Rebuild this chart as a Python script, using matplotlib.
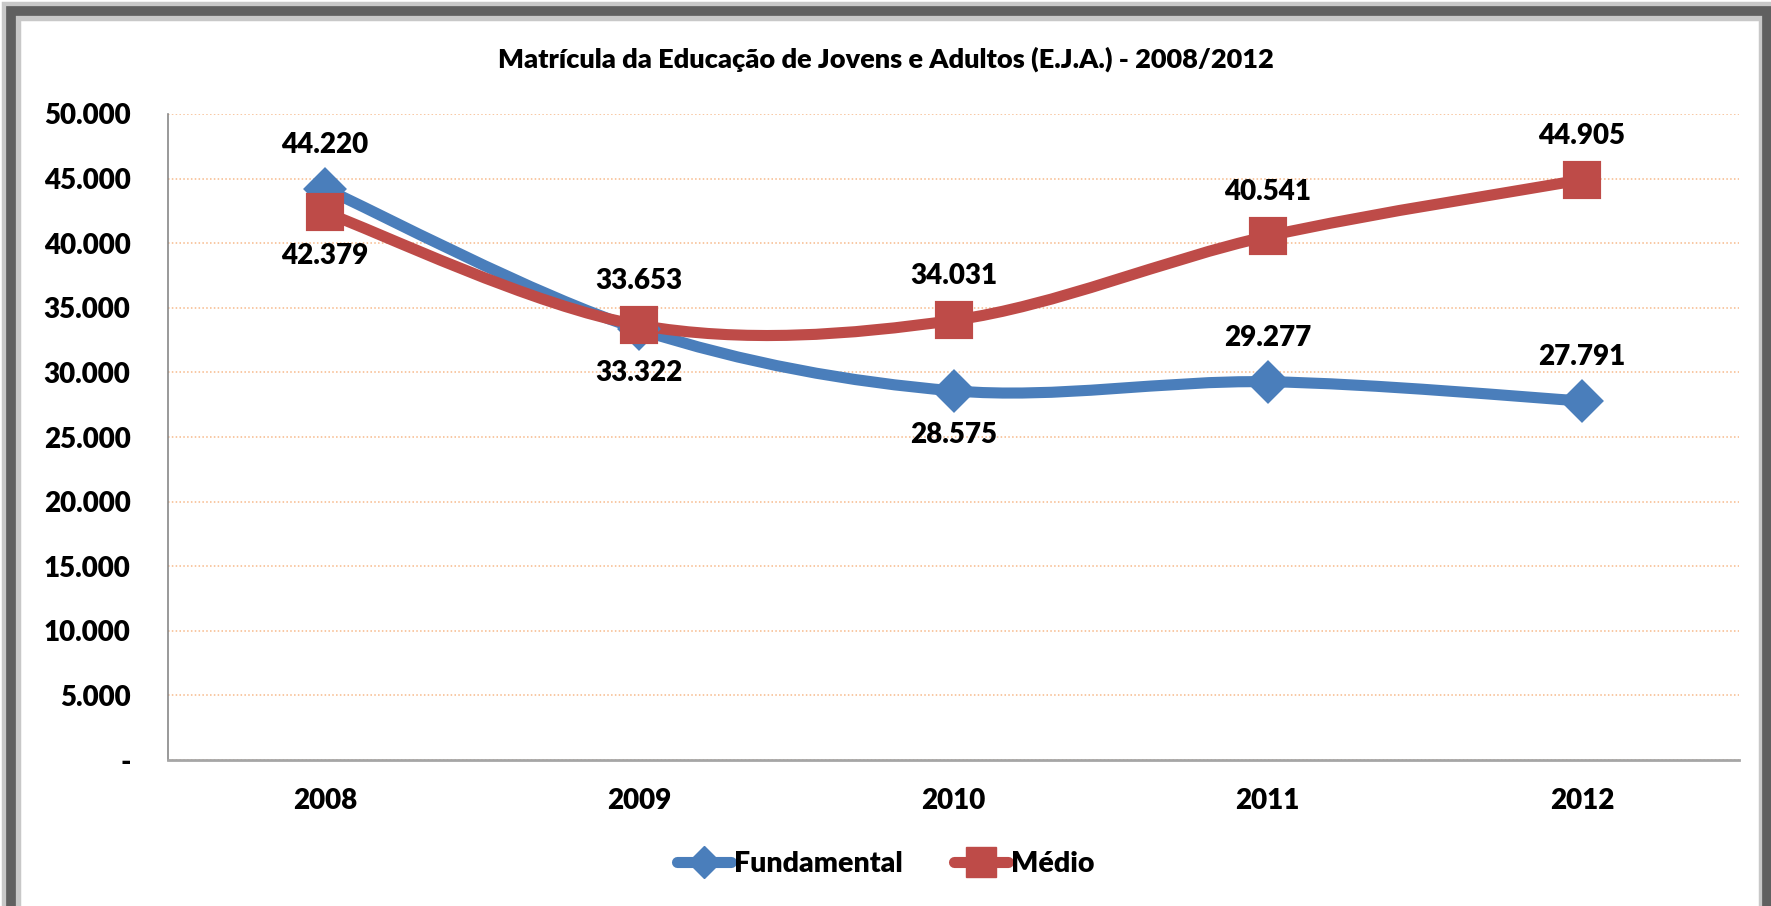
import numpy as np
import matplotlib
matplotlib.use("Agg")
import matplotlib.pyplot as plt
from matplotlib.patches import Rectangle, PathPatch
from matplotlib.path import Path
from matplotlib.ticker import FuncFormatter, MultipleLocator

plt.rcParams['font.family'] = ['Lato', 'DejaVu Sans']

years = ["2008", "2009", "2010", "2011", "2012"]
fundamental = [44220, 33322, 28575, 29277, 27791]
medio = [42379, 33653, 34031, 40541, 44905]
title = "Matrícula da Educação de Jovens e Adultos (E.J.A.) - 2008/2012"

# label placement: +1 above, -1 below
fund_pos = [1, -1, -1, 1, 1]
med_pos = [-1, 1, 1, 1, 1]

BLUE = "#4A7EBB"
RED = "#BE4B48"
FW = 800
FS = 20

W, H = 1771, 906
fig = plt.figure(figsize=(W / 100, H / 100), dpi=100)
fig.patch.set_facecolor("white")

# outer frame with shadow
fig.patches.append(Rectangle((11 / W, -0.1), (1768 - 11) / W, (H - 11) / H + 0.1,
                             transform=fig.transFigure, fill=False,
                             edgecolor="#C8C8C8", lw=14, zorder=0))
fig.patches.append(Rectangle((11 / W, -0.1), (1767 - 11) / W, (H - 11) / H + 0.1,
                             transform=fig.transFigure, fill=False,
                             edgecolor="#606060", lw=7, zorder=1))

ax = fig.add_axes([168 / W, 1 - 760 / H, (1739 - 168) / W, (760 - 114) / H])
x = np.arange(len(years))


def smooth_path(xs, ys):
    pts = np.column_stack([xs, ys]).astype(float)
    n = len(pts)
    verts = [pts[0]]
    codes = [Path.MOVETO]
    for i in range(n - 1):
        p0 = pts[i - 1] if i > 0 else pts[i]
        p1 = pts[i]
        p2 = pts[i + 1]
        p3 = pts[i + 2] if i + 2 < n else pts[i + 1]
        c1 = p1 + (p2 - p0) / 6.0
        c2 = p2 - (p3 - p1) / 6.0
        verts += [c1, c2, p2]
        codes += [Path.CURVE4] * 3
    return Path(verts, codes)


LW = 8
for vals, col, mk, ms, lab in [(fundamental, BLUE, "D", 19, "Fundamental"),
                                (medio, RED, "s", 25, "Médio")]:
    pp = PathPatch(smooth_path(x, vals), fill=False, edgecolor=col, lw=LW,
                   capstyle="round", joinstyle="round", zorder=3)
    ax.add_patch(pp)
    ax.plot(x, vals, linestyle="none", marker=mk, markersize=ms,
            markerfacecolor=col, markeredgecolor=col, markeredgewidth=3,
            zorder=4)
    # legend proxy
    ax.plot([], [], color=col, lw=LW, marker=mk, markersize=ms * 0.85,
            markerfacecolor=col, markeredgecolor=col, label=lab,
            solid_capstyle="round")

for vals, pos in [(fundamental, fund_pos), (medio, med_pos)]:
    for xi, v, p in zip(x, vals, pos):
        ax.annotate(f"{v:,}".replace(",", "."), (xi, v),
                    xytext=(0, 44 * p), textcoords="offset pixels",
                    ha="center", va="center", fontsize=FS,
                    fontweight=FW, color="black", zorder=5)

ax.set_xlim(-0.5, len(years) - 0.5)
ax.set_ylim(0, 50000)
ax.yaxis.set_major_locator(MultipleLocator(5000))
ax.yaxis.set_major_formatter(FuncFormatter(
    lambda v, _: "-" if v == 0 else f"{int(v):,}".replace(",", ".")))
ax.set_xticks(x)
ax.set_xticklabels(years)
ax.tick_params(axis="y", length=0, pad=27, labelsize=FS)
ax.tick_params(axis="x", length=0, pad=20, labelsize=FS)
for lbl in ax.get_xticklabels() + ax.get_yticklabels():
    lbl.set_fontweight(FW)

ax.grid(axis="y", linestyle=(0, (1, 1.5)), color="#F7B98A", lw=1.1)
ax.set_axisbelow(True)
for s in ["top", "right"]:
    ax.spines[s].set_visible(False)
ax.spines["left"].set_color("#888888")
ax.spines["left"].set_linewidth(1.2)
ax.spines["bottom"].set_color("#A6A6A6")
ax.spines["bottom"].set_linewidth(2)

fig.text(0.5, 1 - 59 / H, title, ha="center", va="center",
         fontsize=19.5, fontweight=FW)

handles, labels = ax.get_legend_handles_labels()
leg = fig.legend(handles, labels, loc="center", bbox_to_anchor=(0.5, 1 - 864 / H),
                 ncol=2, frameon=False, fontsize=20.5, handlelength=1.9,
                 handletextpad=0.1, columnspacing=1.8)
for t in leg.get_texts():
    t.set_fontweight(FW)

fig.savefig("out.png", dpi=100)
